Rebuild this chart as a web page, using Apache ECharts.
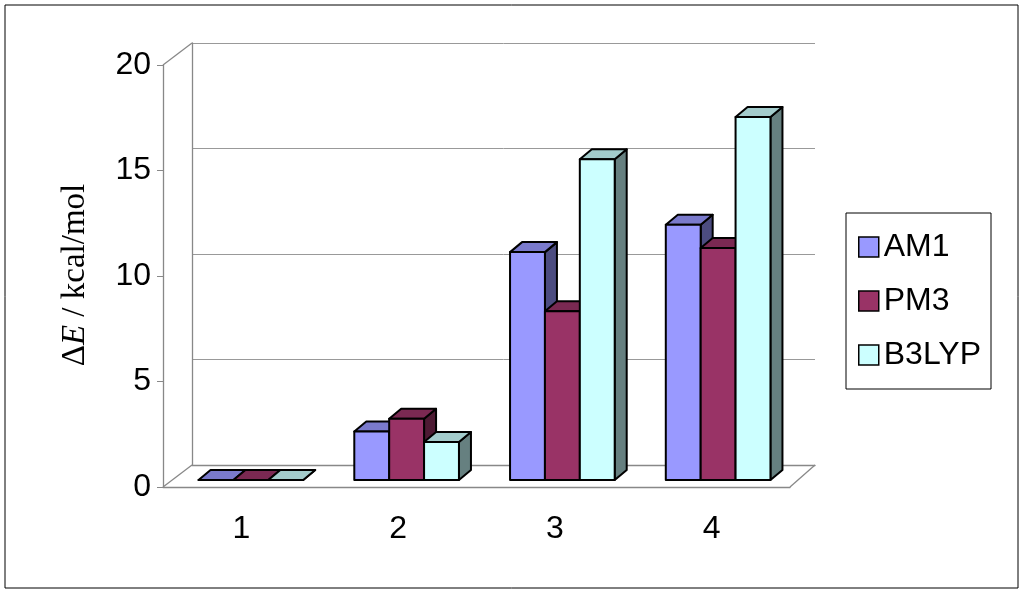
<!DOCTYPE html><html><head><meta charset="utf-8"><script src="https://cdn.jsdelivr.net/npm/echarts@6/dist/echarts.min.js"></script></head><body style="margin:0"><div id="c" style="width:1024px;height:593px"></div><script>
const categories=['1','2','3','4'];
const seriesNames=['AM1','PM3','B3LYP'];
const AM1=[0,2.3,10.8,12.1];
const PM3=[0,2.9,8.0,11.0];
const B3LYP=[0,1.8,15.2,17.2];
const yTicks=[0,5,10,15,20];
const values=[AM1,PM3,B3LYP];
const faces=[['#9999FF','#7a7acc','#4c4c80'],['#993366','#7a2952','#4d1a33'],['#CCFFFF','#a3cccc','#668080']];
const chart=echarts.init(document.getElementById('c'));
function mk(i){return function(params,api){
 const c=api.coord([api.value(0),api.value(1)]);const b=api.coord([api.value(0),0]);
 const band=api.size([1,0])[0];const w=band*0.224;
 const sx=-19,sy=15,dx=12,dy=-10;
 const x0=c[0]+(i-1.5)*w+sx, x1=x0+w, yt=c[1]+sy, yb=b[1]+sy;
 const st={stroke:'#000',lineWidth:2,lineJoin:'round'};
 return {type:'group',children:[
  {type:'polygon',shape:{points:[[x1,yb],[x1+dx,yb+dy],[x1+dx,yt+dy],[x1,yt]]},style:Object.assign({fill:faces[i][2]},st)},
  {type:'polygon',shape:{points:[[x0,yt],[x0+dx,yt+dy],[x1+dx,yt+dy],[x1,yt]]},style:Object.assign({fill:faces[i][1]},st)},
  {type:'rect',shape:{x:x0,y:yt,width:w,height:Math.max(yb-yt,0)},style:Object.assign({fill:faces[i][0]},st)}
 ]};};}
const ln=(x1,y1,x2,y2)=>({type:'line',shape:{x1,y1,x2,y2},style:{stroke:'#888',lineWidth:1.3}});
chart.setOption({
 animation:false,backgroundColor:'#fff',
 graphic:[{type:'rect',shape:{x:5,y:5,width:1013,height:583},style:{fill:'none',stroke:'#000',lineWidth:1}},
  ln(163,487,192,465),ln(163,65,192,43),ln(790,487,815,465),
  {type:'text',x:75,y:275,rotation:Math.PI/2,style:{text:'{n|Δ}{i|E}{n| / kcal/mol}',align:'center',verticalAlign:'middle',rich:{n:{fontFamily:'Liberation Serif',fontSize:33},i:{fontFamily:'Liberation Serif',fontSize:33,fontStyle:'italic'}}}}],
 legend:{orient:'vertical',left:846,top:213,width:164,height:166,padding:[18,10,18,12],itemGap:22,itemWidth:20,itemHeight:20,borderColor:'#000',borderWidth:1,textStyle:{fontFamily:'Liberation Sans',fontSize:32,color:'#000'},data:seriesNames.map((n,i)=>({name:n,icon:'rect',itemStyle:{color:faces[i][0],borderColor:'#000',borderWidth:1.5}}))},
 grid:[{left:192,right:209,top:43,bottom:128},{left:163,right:234,top:65,bottom:106}],
 xAxis:[{gridIndex:0,type:'category',data:categories,axisLabel:{show:false},axisTick:{show:false},axisLine:{lineStyle:{color:'#888',width:1.3}}},
  {gridIndex:1,type:'category',data:categories,axisLabel:{fontFamily:'Liberation Sans',fontSize:32,color:'#000',margin:26},axisTick:{length:8,lineStyle:{color:'#888'}},axisLine:{lineStyle:{color:'#888',width:1.3}}}],
 yAxis:[{gridIndex:0,min:0,max:20,interval:5,axisLabel:{show:false},axisTick:{show:false},axisLine:{show:true,lineStyle:{color:'#888',width:1.3}},splitLine:{lineStyle:{color:'#999',width:1}}},
  {gridIndex:1,min:0,max:20,interval:5,axisLabel:{fontFamily:'Liberation Sans',fontSize:32,color:'#000',margin:12,formatter:v=>yTicks.includes(v)?String(v):''},axisTick:{show:true,length:6,lineStyle:{color:'#888'}},axisLine:{show:true,lineStyle:{color:'#888',width:1.3}},splitLine:{show:false}}],
 series:seriesNames.map((n,i)=>({name:n,type:'custom',xAxisIndex:0,yAxisIndex:0,itemStyle:{color:faces[i][0]},renderItem:mk(i),data:values[i].map((v,k)=>[k,v])}))
});
</script></body></html>
